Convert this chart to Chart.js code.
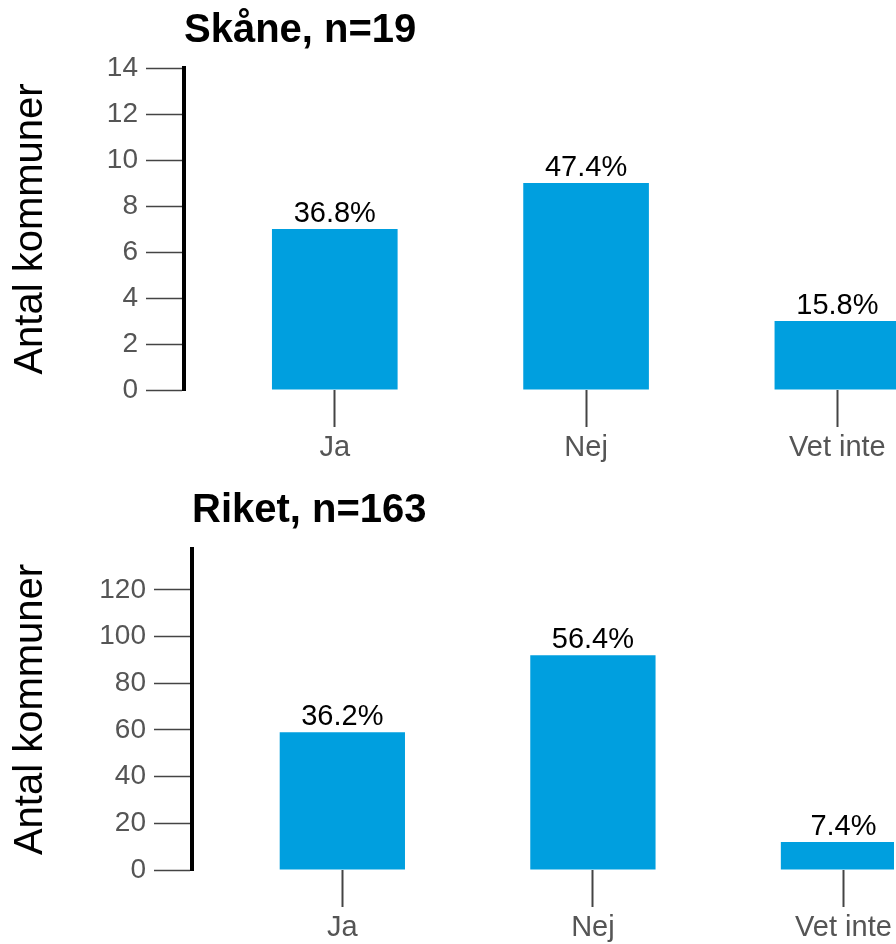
<!DOCTYPE html>
<html>
<head>
<meta charset="utf-8">
<script src="https://cdn.jsdelivr.net/npm/chart.js@4"></script>
<style>
  html, body { margin: 0; padding: 0; background: #fff; overflow: hidden; }
  .box { position: absolute; left: 0; width: 896px; }
  #topBox { top: 0; height: 470px; }
  #bottomBox { top: 470px; height: 474px; }
</style>
</head>
<body>
<div class="box" id="topBox"><canvas id="topChart"></canvas></div>
<div class="box" id="bottomBox"><canvas id="bottomChart"></canvas></div>
<script>
// data
const categories = ["Ja", "Nej", "Vet inte"];
const skaneValues = [7, 9, 3];
const skaneN = 19;
const riketValues = [59, 92, 12];
const riketN = 163;
const skaneTicks = [0, 2, 4, 6, 8, 10, 12, 14];
const riketTicks = [0, 20, 40, 60, 80, 100, 120];

const FONT = '"Liberation Sans", Arial, sans-serif';
const BLUE = "#009FDF";

const pct = (vals, n) => vals.map(v => (v / n * 100).toFixed(1) + "%");

// percent text above each bar
const barLabels = {
  id: "barLabels",
  afterDatasetsDraw(chart, args, opts) {
    const ctx = chart.ctx;
    const meta = chart.getDatasetMeta(0);
    ctx.save();
    ctx.font = "29px " + FONT;
    ctx.fillStyle = "#000";
    ctx.textAlign = "center";
    ctx.textBaseline = "alphabetic";
    meta.data.forEach((bar, i) => {
      ctx.fillText(opts.labels[i], bar.x, bar.y - 7);
    });
    ctx.restore();
  }
};

function makeChart(id, title, values, n, yTicks, yMax, axisLeft, titlePad) {
  const ctx = document.getElementById(id).getContext("2d");
  return new Chart(ctx, {
    type: "bar",
    data: {
      datasets: [{
        data: values.map((v, i) => ({ x: i, y: v })),
        backgroundColor: BLUE,
        borderWidth: 0,
        barPercentage: 0.5,
        categoryPercentage: 1
      }]
    },
    options: {
      responsive: true,
      maintainAspectRatio: false,
      animation: false,
      layout: { padding: 0 },
      plugins: {
        legend: { display: false },
        tooltip: { enabled: false },
        title: {
          display: true,
          text: title,
          align: "start",
          fullSize: false,
          color: "#000",
          font: { family: FONT, size: 40, weight: "bold", lineHeight: 1.2 },
          padding: titlePad
        },
        barLabels: { labels: pct(values, n) }
      },
      scales: {
        x: {
          type: "linear",
          offset: false,
          min: -0.6,
          max: (896 - axisLeft) / 251.3 - 0.6,
          afterBuildTicks: s => { s.ticks = categories.map((c, i) => ({ value: i })); },
          afterFit: s => { s.height = id === "topChart" ? 80 : 74; },
          border: { display: false },
          grid: { offset: false, drawOnChartArea: false, tickLength: 37, tickColor: "#444", tickWidth: 2 },
          ticks: {
            callback: v => categories[v],
            color: "#555",
            padding: 4,
            maxRotation: 0,
            autoSkip: false,
            font: { family: FONT, size: 29 }
          }
        },
        y: {
          min: 0,
          max: yMax,
          afterBuildTicks: s => { s.ticks = yTicks.map(v => ({ value: v })); },
          afterFit: s => { s.width = axisLeft; },
          border: { display: true, width: 4, color: "#000" },
          grid: { drawOnChartArea: false, tickLength: 38, tickColor: "#444", tickWidth: 1.5 },
          ticks: {
            color: "#555",
            padding: 8,
            font: { family: FONT, size: 28 }
          },
          title: {
            display: true,
            text: "Antal kommuner",
            color: "#000",
            font: { family: FONT, size: 40, lineHeight: 1.2 },
            padding: { top: 7, bottom: 0 }
          }
        }
      }
    },
    plugins: [barLabels]
  });
}

makeChart("topChart", "Skåne, n=" + skaneN, skaneValues, skaneN, skaneTicks, 14, 184, { top: 7, bottom: 13 });
makeChart("bottomChart", "Riket, n=" + riketN, riketValues, riketN, riketTicks, 137.5, 192, { top: 17, bottom: 14 });
</script>
</body>
</html>
